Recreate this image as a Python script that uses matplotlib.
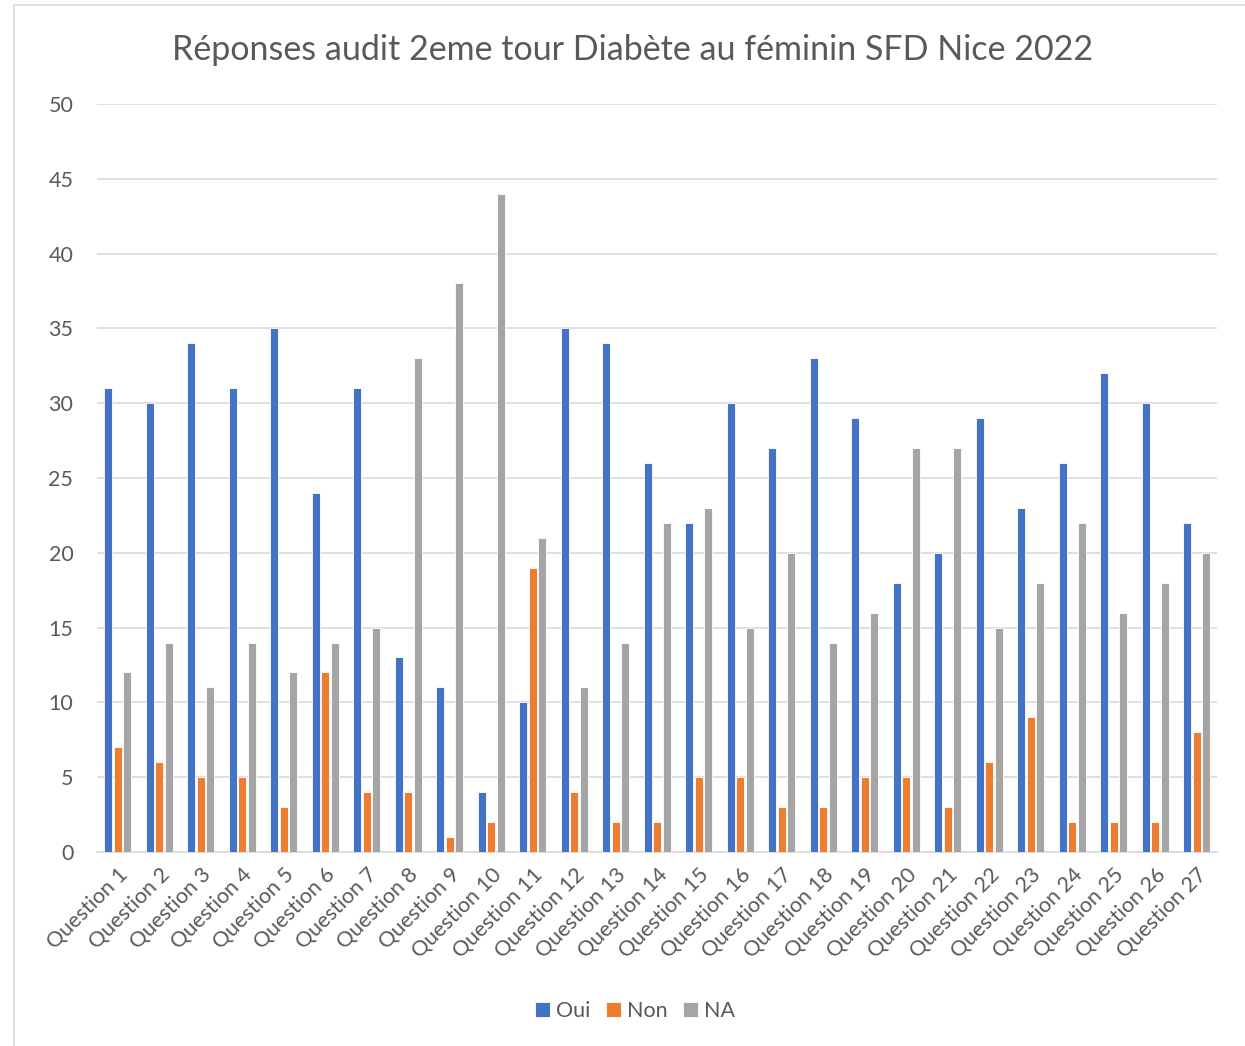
import matplotlib.pyplot as plt
import matplotlib.patches as patches
import numpy as np

plt.rcParams['font.family'] = ['Lato', 'DejaVu Sans']

questions = ['Question %d' % i for i in range(1, 28)]
oui = [31, 30, 34, 31, 35, 24, 31, 13, 11, 4, 10, 35, 34, 26, 22, 30, 27, 33, 29, 18, 20, 29, 23, 26, 32, 30, 22]
non = [7, 6, 5, 5, 3, 12, 4, 4, 1, 2, 19, 4, 2, 2, 5, 5, 3, 3, 5, 5, 3, 6, 9, 2, 2, 2, 8]
na = [12, 14, 11, 14, 12, 14, 15, 33, 38, 44, 21, 11, 14, 22, 23, 15, 20, 14, 16, 27, 27, 15, 18, 22, 16, 18, 20]

grey = '#595959'
fig = plt.figure(figsize=(12.45, 10.46), dpi=100)
ax = fig.add_axes([0.0779, 0.1855, 0.8999, 0.7151])

x = np.arange(len(questions))
w = 0.19
off = 0.23
ax.bar(x - off, oui, w, color='#4472C4', edgecolor='white', linewidth=0.6, label='Oui', zorder=3)
ax.bar(x, non, w, color='#ED7D31', edgecolor='white', linewidth=0.6, label='Non', zorder=3)
ax.bar(x + off, na, w, color='#A5A5A5', edgecolor='white', linewidth=0.6, label='NA', zorder=3)

ax.set_xlim(-0.5, len(questions) - 0.5)
ax.set_ylim(0, 50)
ax.set_yticks(range(0, 51, 5))
ax.yaxis.grid(True, color='#D9D9D9', linewidth=1.2, zorder=0)
for s in ['top', 'right', 'left']:
    ax.spines[s].set_visible(False)
ax.spines['bottom'].set_color('#D9D9D9')
ax.spines['bottom'].set_linewidth(1.2)
ax.tick_params(axis='both', length=0, colors=grey, labelsize=15.5)
ax.tick_params(axis='y', pad=17)
ax.set_xticks(x)
ax.set_xticklabels(questions, rotation=45, ha='right', rotation_mode='anchor')
ax.tick_params(axis='x', pad=9)

fig.text(0.508, 0.952, 'Réponses audit 2eme tour Diabète au féminin SFD Nice 2022',
         ha='center', va='center', fontsize=24.5, color=grey)

leg = fig.legend(loc='center', bbox_to_anchor=(0.51, 0.033), ncol=3, frameon=False,
                 fontsize=15.5, handlelength=0.7, handleheight=0.7, handletextpad=0.25,
                 columnspacing=0.75)
for t in leg.get_texts():
    t.set_color(grey)

fig.patches.append(patches.Rectangle((0.011, -0.01), 1.0, 1.005, transform=fig.transFigure,
                                     fill=False, edgecolor='#D9D9D9', linewidth=1.2))

fig.savefig('out.png', dpi=100)
